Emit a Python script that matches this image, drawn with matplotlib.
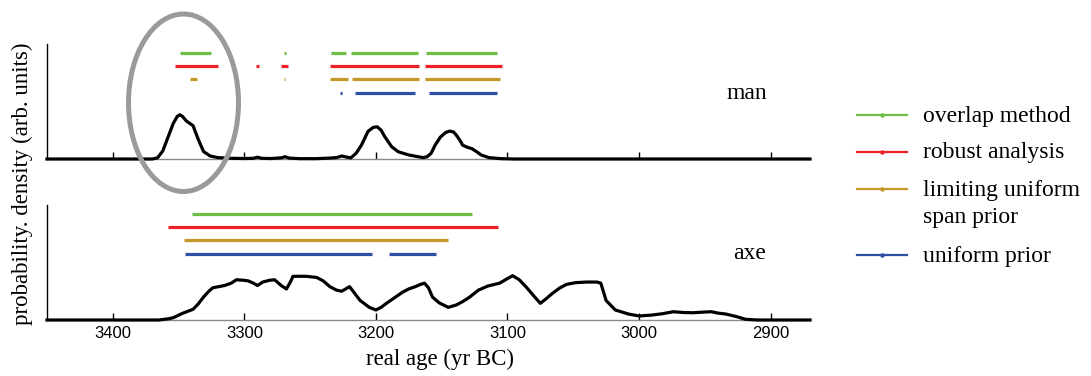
import matplotlib
matplotlib.use("Agg")
import matplotlib.pyplot as plt
from matplotlib.lines import Line2D
from matplotlib.patches import Ellipse

# ---------------- data ----------------
# summed probability density, "man" sample (arbitrary units)
man_years = [3450, 3370, 3366, 3362, 3358, 3354, 3351, 3349, 3347, 3344,
             3339, 3335, 3331, 3326, 3320, 3310, 3300, 3293, 3290, 3287,
             3280, 3272, 3269, 3266, 3258, 3245, 3235, 3230, 3226, 3222,
             3219, 3215, 3211, 3206, 3202, 3199, 3196, 3193, 3188, 3183,
             3175, 3168, 3164, 3161, 3158, 3155, 3151, 3147, 3144, 3141,
             3139, 3136, 3134, 3130, 3127, 3123, 3120, 3114, 3105, 3095,
             2870]
man_density = [0.0, 0.0, 0.01, 0.07, 0.19, 0.31, 0.37, 0.385, 0.37, 0.33,
               0.29, 0.17, 0.065, 0.026, 0.012, 0.006, 0.004, 0.006, 0.016, 0.006,
               0.004, 0.01, 0.02, 0.008, 0.003, 0.003, 0.008, 0.012, 0.026, 0.016,
               0.01, 0.05, 0.12, 0.24, 0.275, 0.28, 0.25, 0.19, 0.107, 0.063,
               0.035, 0.02, 0.012, 0.02, 0.05, 0.12, 0.19, 0.23, 0.243, 0.235,
               0.21, 0.16, 0.12, 0.10, 0.09, 0.06, 0.035, 0.012, 0.003, 0.0,
               0.0]

# summed probability density, "axe" sample (arbitrary units)
axe_years = [3450, 3365, 3358, 3354, 3347, 3339, 3335, 3331, 3327, 3324,
             3315, 3310, 3306, 3300, 3297, 3293, 3290, 3286, 3281, 3277,
             3272, 3268, 3265, 3263, 3253, 3245, 3240, 3235, 3230, 3226,
             3223, 3220, 3216, 3212, 3205, 3200, 3196, 3192, 3185, 3180,
             3175, 3170, 3166, 3163, 3160, 3157, 3152, 3145, 3139, 3134,
             3129, 3122, 3115, 3106, 3100, 3096, 3091, 3086, 3080, 3075,
             3070, 3066, 3060, 3055, 3048, 3040, 3032, 3029, 3025, 3018,
             3008, 3000, 2990, 2982, 2974, 2966, 2959, 2952, 2945, 2940,
             2934, 2926, 2919, 2910, 2870]
axe_density = [0.0, 0.0, 0.01, 0.02, 0.058, 0.093, 0.14, 0.2, 0.25, 0.28,
               0.30, 0.32, 0.35, 0.345, 0.34, 0.32, 0.30, 0.33, 0.345, 0.35,
               0.30, 0.27, 0.33, 0.38, 0.38, 0.37, 0.34, 0.29, 0.26, 0.25,
               0.27, 0.29, 0.23, 0.17, 0.11, 0.087, 0.11, 0.145, 0.2, 0.24,
               0.27, 0.29, 0.31, 0.32, 0.28, 0.2, 0.15, 0.11, 0.13, 0.16,
               0.197, 0.26, 0.295, 0.32, 0.36, 0.385, 0.35, 0.29, 0.21, 0.145,
               0.19, 0.23, 0.28, 0.31, 0.325, 0.33, 0.33, 0.32, 0.17, 0.087,
               0.052, 0.035, 0.043, 0.055, 0.072, 0.065, 0.063, 0.068, 0.072, 0.06,
               0.052, 0.03, 0.006, 0.0, 0.0]

# age ranges (yr BC, start -> end) from each method
man_overlap = [(3349, 3325), (3270, 3268), (3234, 3223), (3219, 3168), (3162, 3108)]
man_robust = [(3353, 3320), (3291, 3289), (3272, 3267), (3235, 3167), (3163, 3104)]
man_span = [(3341.5, 3336), (3269.7, 3269.3), (3235, 3221), (3218.5, 3167), (3163, 3106)]
man_uniform = [(3227.6, 3225.9), (3216, 3170), (3160, 3108)]

axe_overlap = [(3340, 3127)]
axe_robust = [(3358, 3107)]
axe_span = [(3346, 3145)]
axe_uniform = [(3345, 3203), (3190, 3154)]

method_names = ["overlap method", "robust analysis",
                "limiting uniform\nspan prior", "uniform prior"]
method_colors = ["#6ebe46", "#eb2328", "#c69828", "#2d50a5"]
row_levels = [0.92, 0.812, 0.693, 0.578]

tick_years = [3400, 3300, 3200, 3100, 3000, 2900]
x_range = (3450, 2870)

# ---------------- drawing ----------------
W, H = 1091, 376
fig = plt.figure(figsize=(W / 100, H / 100), dpi=100)
serif = "Liberation Serif"
sans = "Liberation Sans"


def setup_axes(ax, labels):
    ax.set_xlim(*x_range)
    ax.set_ylim(0, 1)
    for side in ("top", "right"):
        ax.spines[side].set_visible(False)
    ax.spines["left"].set_color("black")
    ax.spines["left"].set_linewidth(1.0)
    ax.spines["bottom"].set_color("#8a8a8a")
    ax.spines["bottom"].set_linewidth(1.0)
    ax.set_yticks([])
    ax.set_xticks(tick_years)
    ax.tick_params(axis="x", direction="in", length=5, width=1,
                   color="black", pad=4, labelbottom=labels)
    if labels:
        ax.set_xticklabels([str(t) for t in tick_years], fontfamily=sans,
                           fontsize=12)


def draw_panel(ax, years, density, ranges):
    for spans, color, level in zip(ranges, method_colors, row_levels):
        for a, b in spans:
            ax.plot([a, b], [level, level], color=color, lw=2.3,
                    solid_capstyle="butt", zorder=2)
    ax.plot(years, density, color="black", lw=2.3, clip_on=False,
            solid_joinstyle="round", zorder=3)


left, right = 47 / W, 810 / W
ax_top = fig.add_axes([left, 1 - 159 / H, right - left, 115 / H])
ax_bot = fig.add_axes([left, 1 - 320 / H, right - left, 115 / H])
setup_axes(ax_top, False)
setup_axes(ax_bot, True)
draw_panel(ax_top, man_years, man_density,
           [man_overlap, man_robust, man_span, man_uniform])
draw_panel(ax_bot, axe_years, axe_density,
           [axe_overlap, axe_robust, axe_span, axe_uniform])

fig.text(727 / W, 1 - 99.3 / H, "man", fontfamily=serif, fontsize=17,
         ha="left", va="baseline")
fig.text(733 / W, 1 - 259.3 / H, "axe", fontfamily=serif, fontsize=17,
         ha="left", va="baseline")

fig.text(440 / W, 1 - 365 / H, "real age (yr BC)", fontfamily=serif,
         fontsize=16.5, ha="center", va="baseline")
fig.text(22 / W, 1 - 183.5 / H, "probability. density (arb. units)",
         fontfamily=serif, fontsize=16.5, rotation=90, ha="center",
         va="center")

# highlight around the early "man" peak
fig.add_artist(Ellipse((183.5 / W, 1 - 102.75 / H), 110 / W, 177.5 / H,
                       transform=fig.transFigure, fill=False,
                       ec="#9a9a9a", lw=3.6))

# legend
legend_rows = [115, 151.7, 189.3, 255]
for name, color, ly in zip(method_names, method_colors, legend_rows):
    fig.add_artist(Line2D([857 / W, 882 / W, 907 / W], [1 - ly / H] * 3,
                          transform=fig.transFigure, color=color, lw=1.6,
                          marker="o", ms=2.2, markevery=[1]))
    for k, line in enumerate(name.split("\n")):
        fig.text(923 / W, 1 - (ly + 6.7 + 27.4 * k) / H, line,
                 fontfamily=serif, fontsize=17, ha="left", va="baseline")

fig.savefig("out.png", dpi=100)
